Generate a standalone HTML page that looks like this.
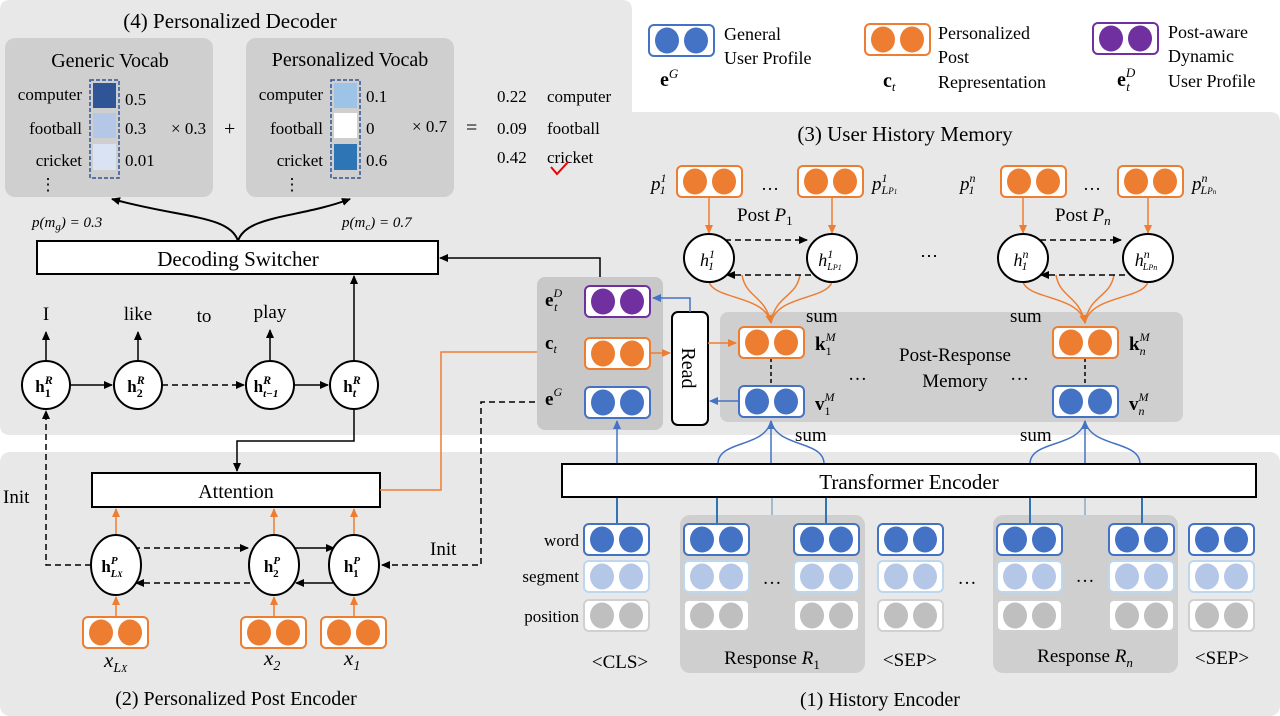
<!DOCTYPE html>
<html><head><meta charset="utf-8"><style>
html,body{margin:0;padding:0;background:#fff;}
svg{display:block;font-family:"Liberation Serif",serif;}
</style></head><body>
<svg width="1280" height="716" viewBox="0 0 1280 716" xmlns="http://www.w3.org/2000/svg">
<defs>
<marker id="ak" markerWidth="10" markerHeight="10" refX="8" refY="5" orient="auto" markerUnits="userSpaceOnUse"><path d="M0,1 L9,5 L0,9 z" fill="#000"/></marker>
<marker id="ao" markerWidth="10" markerHeight="10" refX="8" refY="5" orient="auto" markerUnits="userSpaceOnUse"><path d="M0,1 L9,5 L0,9 z" fill="#ed7d31"/></marker>
<marker id="ab" markerWidth="10" markerHeight="10" refX="8" refY="5" orient="auto" markerUnits="userSpaceOnUse"><path d="M0,1 L9,5 L0,9 z" fill="#4472c4"/></marker>
<g id="vo"><rect x="1" y="1" width="65" height="31" rx="5" fill="#fff" stroke="#ed7d31" stroke-width="2"/><ellipse cx="19" cy="16.5" rx="12" ry="13" fill="#ed7d31"/><ellipse cx="48" cy="16.5" rx="12" ry="13" fill="#ed7d31"/></g>
<g id="vb"><rect x="1" y="1" width="65" height="31" rx="5" fill="#fff" stroke="#4472c4" stroke-width="2"/><ellipse cx="19" cy="16.5" rx="12" ry="13" fill="#4472c4"/><ellipse cx="48" cy="16.5" rx="12" ry="13" fill="#4472c4"/></g>
<g id="vl"><rect x="1" y="1" width="65" height="31" rx="5" fill="#fff" stroke="#bdd7ee" stroke-width="2"/><ellipse cx="19" cy="16.5" rx="12" ry="13" fill="#b4c7e7"/><ellipse cx="48" cy="16.5" rx="12" ry="13" fill="#b4c7e7"/></g>
<g id="vg"><rect x="1" y="1" width="65" height="31" rx="5" fill="#fff" stroke="#d0d0d0" stroke-width="2"/><ellipse cx="19" cy="16.5" rx="12" ry="13" fill="#bfbfbf"/><ellipse cx="48" cy="16.5" rx="12" ry="13" fill="#bfbfbf"/></g>
<g id="vp"><rect x="1" y="1" width="65" height="31" rx="5" fill="#fff" stroke="#7030a0" stroke-width="2"/><ellipse cx="19" cy="16.5" rx="12" ry="13" fill="#7030a0"/><ellipse cx="48" cy="16.5" rx="12" ry="13" fill="#7030a0"/></g>
</defs>

<!-- panels -->
<path d="M10,0 H622 Q632,0 632,10 V112 H1270 Q1280,112 1280,122 V435 H10 Q0,435 0,425 V10 Q0,0 10,0 z" fill="#e8e8e8"/>
<rect x="0" y="452" width="1280" height="264" rx="10" fill="#e8e8e8"/>

<!-- (4) decoder -->
<text x="230" y="28" font-size="21" text-anchor="middle">(4) Personalized Decoder</text>
<rect x="5" y="38" width="208" height="159" rx="10" fill="#d0cfcf"/>
<rect x="246" y="38" width="208" height="159" rx="10" fill="#d0cfcf"/>
<text x="110" y="67" font-size="20" text-anchor="middle">Generic Vocab</text>
<text x="350" y="66" font-size="20" text-anchor="middle">Personalized Vocab</text>
<g font-size="17">
<text x="82" y="100" text-anchor="end">computer</text>
<text x="82" y="134" text-anchor="end">football</text>
<text x="82" y="166" text-anchor="end">cricket</text>
<text x="323" y="100" text-anchor="end">computer</text>
<text x="323" y="134" text-anchor="end">football</text>
<text x="323" y="166" text-anchor="end">cricket</text>
<text x="125" y="105">0.5</text><text x="125" y="134">0.3</text><text x="125" y="166">0.01</text>
<text x="366" y="102">0.1</text><text x="366" y="134">0</text><text x="366" y="166">0.6</text>
<text x="171" y="134">× 0.3</text><text x="224" y="135" font-size="20">+</text>
<text x="412" y="132">× 0.7</text><text x="466" y="134" font-size="20">=</text>
<text x="497" y="102">0.22</text><text x="547" y="102">computer</text>
<text x="497" y="134">0.09</text><text x="547" y="134">football</text>
<text x="497" y="163">0.42</text><text x="547" y="163">cricket</text>
<text x="48" y="190" text-anchor="middle">⋮</text><text x="292" y="190" text-anchor="middle">⋮</text>
</g>
<rect x="90" y="80" width="29" height="98" fill="none" stroke="#2f5597" stroke-width="1.5" stroke-dasharray="4,2"/>
<rect x="93" y="83" width="23" height="25" fill="#2f5597"/>
<rect x="93" y="113" width="23" height="25" fill="#b4c7e7"/>
<rect x="93" y="144" width="23" height="26" fill="#dae3f3"/>
<rect x="331" y="80" width="29" height="98" fill="none" stroke="#2f5597" stroke-width="1.5" stroke-dasharray="4,2"/>
<rect x="334" y="83" width="23" height="25" fill="#9dc3e6"/>
<rect x="334" y="113" width="23" height="25" fill="#fff"/>
<rect x="334" y="144" width="23" height="26" fill="#2e75b6"/>
<path d="M551,167 L557,174 L568,162" fill="none" stroke="#e00" stroke-width="2"/>
<path d="M238,241 C230,215 180,218 112,199" fill="none" stroke="#000" stroke-width="2" marker-end="url(#ak)"/>
<path d="M238,241 C246,215 300,218 350,199" fill="none" stroke="#000" stroke-width="2" marker-end="url(#ak)"/>
<text x="32" y="227" font-size="15" font-style="italic">p(m<tspan font-size="11" dy="3">g</tspan><tspan dy="-3">) = 0.3</tspan></text>
<text x="342" y="227" font-size="15" font-style="italic">p(m<tspan font-size="11" dy="3">c</tspan><tspan dy="-3">) = 0.7</tspan></text>
<rect x="37" y="241" width="401" height="33" fill="#fff" stroke="#000" stroke-width="2"/>
<text x="238" y="266" font-size="21" text-anchor="middle">Decoding Switcher</text>
<path d="M600,278 V258 H440" fill="none" stroke="#000" stroke-width="1.5" marker-end="url(#ak)"/>
<path d="M354,361 V276" fill="none" stroke="#000" stroke-width="1.5" marker-end="url(#ak)"/>

<!-- decoder RNN -->
<g font-size="19" text-anchor="middle">
<text x="46" y="320">I</text><text x="138" y="320">like</text><text x="204" y="322">to</text><text x="270" y="318">play</text>
</g>
<g stroke="#000" stroke-width="1.5" fill="none">
<path d="M46,360 V332" marker-end="url(#ak)"/><path d="M138,360 V332" marker-end="url(#ak)"/><path d="M270,360 V330" marker-end="url(#ak)"/>
<path d="M70,385 H112" marker-end="url(#ak)"/><path d="M162,385 H244" stroke-dasharray="6,4" marker-end="url(#ak)"/><path d="M294,385 H328" marker-end="url(#ak)"/>
</g>
<g fill="#fff" stroke="#000" stroke-width="2">
<circle cx="46" cy="385" r="24"/><circle cx="138" cy="385" r="24"/><circle cx="270" cy="385" r="24"/><circle cx="354" cy="385" r="24"/>
</g>
<g font-size="17" font-weight="bold" text-anchor="middle">
<text x="44" y="392">h<tspan font-size="12" dy="-8" font-style="italic">R</tspan><tspan font-size="12" dx="-8" dy="13">1</tspan></text>
<text x="136" y="392">h<tspan font-size="12" dy="-8" font-style="italic">R</tspan><tspan font-size="12" dx="-8" dy="13">2</tspan></text>
<text x="266" y="392">h<tspan font-size="12" dy="-8" font-style="italic">R</tspan><tspan font-size="11" dx="-8" dy="13" font-style="italic">t−1</tspan></text>
<text x="352" y="392">h<tspan font-size="12" dy="-8" font-style="italic">R</tspan><tspan font-size="12" dx="-8" dy="13" font-style="italic">t</tspan></text>
</g>

<!-- (2) encoder -->
<path d="M354,409 V441 H237 V471" fill="none" stroke="#000" stroke-width="1.5" marker-end="url(#ak)"/>
<rect x="92" y="473" width="288" height="34" fill="#fff" stroke="#000" stroke-width="2"/>
<text x="236" y="498" font-size="20" text-anchor="middle">Attention</text>
<path d="M380,490 H441 V352 H582" fill="none" stroke="#ed7d31" stroke-width="1.5" marker-end="url(#ao)"/>
<path d="M91,565 H46 V411" fill="none" stroke="#000" stroke-width="1.5" stroke-dasharray="6,4" marker-end="url(#ak)"/>
<text x="3" y="503" font-size="19">Init</text>
<path d="M585,402 H481 V565 H382" fill="none" stroke="#000" stroke-width="1.5" stroke-dasharray="6,4" marker-end="url(#ak)"/>
<text x="430" y="555" font-size="19">Init</text>
<g stroke="#000" stroke-width="1.5" fill="none">
<path d="M134,548 H248" stroke-dasharray="6,4" marker-end="url(#ak)"/>
<path d="M250,583 H136" stroke-dasharray="6,4" marker-end="url(#ak)"/>
<path d="M293,548 H334" marker-end="url(#ak)"/>
<path d="M333,583 H296" marker-end="url(#ak)"/>
</g>
<g stroke="#ed7d31" stroke-width="1.5" fill="none">
<path d="M116,616 V597" marker-end="url(#ao)"/><path d="M274,616 V597" marker-end="url(#ao)"/><path d="M354,616 V597" marker-end="url(#ao)"/>
<path d="M116,535 V509" marker-end="url(#ao)"/><path d="M274,535 V509" marker-end="url(#ao)"/><path d="M354,535 V509" marker-end="url(#ao)"/>
</g>
<g fill="#fff" stroke="#000" stroke-width="2">
<ellipse cx="116" cy="565" rx="25" ry="30"/><ellipse cx="274" cy="565" rx="25" ry="30"/><ellipse cx="354" cy="565" rx="25" ry="30"/>
</g>
<g font-size="17" font-weight="bold" text-anchor="middle">
<text x="112" y="572">h<tspan font-size="11" dy="-8" font-style="italic">P</tspan><tspan font-size="11" dx="-7" dy="13" font-style="italic">L<tspan font-size="8">X</tspan></tspan></text>
<text x="272" y="572">h<tspan font-size="11" dy="-8" font-style="italic">P</tspan><tspan font-size="11" dx="-7" dy="13">2</tspan></text>
<text x="352" y="572">h<tspan font-size="11" dy="-8" font-style="italic">P</tspan><tspan font-size="11" dx="-7" dy="13">1</tspan></text>
</g>
<use href="#vo" x="82" y="616"/><use href="#vo" x="240" y="616"/><use href="#vo" x="320" y="616"/>
<g font-size="21" font-style="italic">
<text x="104" y="667">x<tspan font-size="14" dy="5">L<tspan font-size="10">X</tspan></tspan></text>
<text x="264" y="665">x<tspan font-size="14" dy="5">2</tspan></text>
<text x="344" y="665">x<tspan font-size="14" dy="5">1</tspan></text>
</g>
<text x="236" y="705" font-size="20" text-anchor="middle">(2) Personalized Post Encoder</text>

<!-- legend -->
<use href="#vb" x="648" y="24"/><use href="#vo" x="864" y="23"/><use href="#vp" x="1092" y="22"/>
<g font-size="18">
<text x="724" y="40">General</text><text x="724" y="64">User Profile</text>
<text x="938" y="39">Personalized</text><text x="938" y="63">Post</text><text x="938" y="88">Representation</text>
<text x="1168" y="38">Post-aware</text><text x="1168" y="62">Dynamic</text><text x="1168" y="87">User Profile</text>
</g>
<g font-size="20" font-weight="bold">
<text x="660" y="86">e<tspan font-size="13" dy="-8" font-style="italic" font-weight="normal">G</tspan></text>
<text x="883" y="87">c<tspan font-size="13" dy="4" font-style="italic" font-weight="normal">t</tspan></text>
<text x="1117" y="86">e<tspan font-size="13" dy="-9" font-style="italic" font-weight="normal">D</tspan><tspan font-size="13" dx="-9" dy="14" font-style="italic" font-weight="normal">t</tspan></text>
</g>

<!-- (3) memory -->
<text x="905" y="141" font-size="21" text-anchor="middle">(3) User History Memory</text>
<rect x="720" y="312" width="463" height="110" rx="8" fill="#d0cfcf"/>
<rect x="537" y="277" width="126" height="153" rx="8" fill="#c8c8c8"/>
<use href="#vo" x="676" y="165"/><use href="#vo" x="797" y="165"/><use href="#vo" x="1000" y="165"/><use href="#vo" x="1117" y="165"/>
<g font-size="19" font-style="italic">
<text x="651" y="190">p<tspan font-size="12" dy="-8">1</tspan><tspan font-size="12" dx="-6" dy="12">1</tspan></text>
<text x="872" y="190">p<tspan font-size="12" dy="-8">1</tspan><tspan font-size="12" dx="-6" dy="12">L<tspan font-size="9">P<tspan font-size="7">1</tspan></tspan></tspan></text>
<text x="960" y="190">p<tspan font-size="12" dy="-8">n</tspan><tspan font-size="12" dx="-7" dy="12">1</tspan></text>
<text x="1192" y="190">p<tspan font-size="12" dy="-8">n</tspan><tspan font-size="12" dx="-7" dy="12">L<tspan font-size="9">P<tspan font-size="7">n</tspan></tspan></tspan></text>
</g>
<g font-size="18"><text x="761" y="190">…</text><text x="1083" y="190">…</text><text x="920" y="262">⋯</text></g>
<text x="737" y="221" font-size="19">Post <tspan font-style="italic">P</tspan><tspan font-size="13" dy="4">1</tspan></text>
<text x="1055" y="221" font-size="19">Post <tspan font-style="italic">P</tspan><tspan font-size="13" dy="4" font-style="italic">n</tspan></text>
<g stroke="#ed7d31" stroke-width="1.5" fill="none">
<path d="M709,198 V233" marker-end="url(#ao)"/><path d="M832,198 V233" marker-end="url(#ao)"/>
<path d="M1023,198 V233" marker-end="url(#ao)"/><path d="M1148,198 V233" marker-end="url(#ao)"/>
<path d="M709,282 C715,300 765,295 771,323" marker-end="url(#ao)"/>
<path d="M742,275 C746,298 765,295 771,323"/>
<path d="M800,275 C796,298 775,295 771,323"/>
<path d="M832,282 C826,300 777,295 771,323"/>
<path d="M1023,282 C1029,300 1079,295 1085,323" marker-end="url(#ao)"/>
<path d="M1056,275 C1060,298 1079,295 1085,323"/>
<path d="M1114,275 C1110,298 1089,295 1085,323"/>
<path d="M1148,282 C1142,300 1091,295 1085,323"/>
</g>
<g stroke="#000" stroke-width="1.5" fill="none" stroke-dasharray="6,4">
<path d="M725,240 H807" marker-end="url(#ak)"/><path d="M811,275 H727" marker-end="url(#ak)"/>
<path d="M1040,240 H1121" marker-end="url(#ak)"/><path d="M1125,275 H1041" marker-end="url(#ak)"/>
<path d="M771,358 V385" stroke-dasharray="4,3"/><path d="M1085,358 V385" stroke-dasharray="4,3"/>
</g>
<g fill="#fff" stroke="#000" stroke-width="2">
<ellipse cx="709" cy="258" rx="25" ry="24"/><ellipse cx="832" cy="258" rx="25" ry="24"/>
<ellipse cx="1023" cy="258" rx="25" ry="24"/><ellipse cx="1148" cy="258" rx="25" ry="24"/>
</g>
<g font-size="18" font-style="italic" text-anchor="middle">
<text x="707" y="266">h<tspan font-size="12" dy="-8">1</tspan><tspan font-size="12" dx="-6" dy="12">1</tspan></text>
<text x="830" y="266">h<tspan font-size="12" dy="-8">1</tspan><tspan font-size="10" dx="-6" dy="12">L<tspan font-size="8">P1</tspan></tspan></text>
<text x="1021" y="266">h<tspan font-size="12" dy="-8">n</tspan><tspan font-size="12" dx="-7" dy="12">1</tspan></text>
<text x="1146" y="266">h<tspan font-size="12" dy="-8">n</tspan><tspan font-size="10" dx="-7" dy="12">L<tspan font-size="8">Pn</tspan></tspan></text>
</g>
<g font-size="19"><text x="806" y="322">sum</text><text x="1010" y="322">sum</text><text x="795" y="441">sum</text><text x="1020" y="441">sum</text></g>
<use href="#vo" x="738" y="326"/><use href="#vb" x="738" y="385"/><use href="#vo" x="1052" y="326"/><use href="#vb" x="1052" y="385"/>
<g font-size="19" font-weight="bold">
<text x="815" y="350">k<tspan font-size="12" dy="-9" font-style="italic" font-weight="normal">M</tspan><tspan font-size="12" dx="-10" dy="14" font-weight="normal">1</tspan></text>
<text x="815" y="410">v<tspan font-size="12" dy="-9" font-style="italic" font-weight="normal">M</tspan><tspan font-size="12" dx="-10" dy="14" font-weight="normal">1</tspan></text>
<text x="1129" y="350">k<tspan font-size="12" dy="-9" font-style="italic" font-weight="normal">M</tspan><tspan font-size="12" dx="-10" dy="14" font-style="italic" font-weight="normal">n</tspan></text>
<text x="1129" y="410">v<tspan font-size="12" dy="-9" font-style="italic" font-weight="normal">M</tspan><tspan font-size="12" dx="-10" dy="14" font-style="italic" font-weight="normal">n</tspan></text>
</g>
<text x="955" y="361" font-size="19" text-anchor="middle">Post-Response</text>
<text x="955" y="387" font-size="19" text-anchor="middle">Memory</text>
<text x="848" y="380" font-size="19">…</text><text x="1010" y="380" font-size="19">…</text>
<use href="#vp" x="584" y="285"/><use href="#vo" x="584" y="337"/><use href="#vb" x="584" y="386"/>
<g font-size="19" font-weight="bold">
<text x="545" y="306">e<tspan font-size="12" dy="-9" font-style="italic" font-weight="normal">D</tspan><tspan font-size="12" dx="-8" dy="14" font-style="italic" font-weight="normal">t</tspan></text>
<text x="545" y="349">c<tspan font-size="12" dy="4" font-style="italic" font-weight="normal">t</tspan></text>
<text x="545" y="405">e<tspan font-size="12" dy="-9" font-style="italic" font-weight="normal">G</tspan></text>
</g>
<rect x="672" y="312" width="36" height="113" rx="6" fill="#fff" stroke="#000" stroke-width="2"/>
<text transform="translate(682,368) rotate(90)" font-size="20" text-anchor="middle">Read</text>
<path d="M690,312 V298 H653" fill="none" stroke="#4472c4" stroke-width="1.5" marker-end="url(#ab)"/>
<path d="M651,353 H670" fill="none" stroke="#ed7d31" stroke-width="1.5" marker-end="url(#ao)"/>
<path d="M708,343 H736" fill="none" stroke="#ed7d31" stroke-width="1.5" marker-end="url(#ao)"/>
<path d="M738,401 H710" fill="none" stroke="#4472c4" stroke-width="1.5" marker-end="url(#ab)"/>

<!-- (1) history encoder -->
<g stroke="#4472c4" stroke-width="1.5" fill="none">
<path d="M617,464 V421" marker-end="url(#ab)"/>
<path d="M771,464 V421" marker-end="url(#ab)"/>
<path d="M718,464 C718,440 765,448 771,421"/><path d="M824,464 C824,440 777,448 771,421"/>
<path d="M1085,464 V421" marker-end="url(#ab)"/>
<path d="M1030,464 C1030,440 1079,448 1085,421"/><path d="M1140,464 C1140,440 1091,448 1085,421"/>
</g>
<rect x="680" y="515" width="185" height="158" rx="10" fill="#d0cfcf"/>
<rect x="993" y="515" width="185" height="158" rx="10" fill="#d0cfcf"/>
<g stroke="#2e75b6" stroke-width="2" fill="none">
<path d="M617,497 V523"/><path d="M717,497 V523"/><path d="M826,497 V523"/><path d="M1030,497 V523"/><path d="M1142,497 V523"/>
</g>
<g stroke="#8ea9c8" stroke-width="1.5"><path d="M772,497 V515"/><path d="M1085,497 V515"/></g>
<rect x="562" y="464" width="694" height="33" fill="#fff" stroke="#000" stroke-width="2"/>
<text x="909" y="489" font-size="21" text-anchor="middle">Transformer Encoder</text>
<g>
<use href="#vb" x="583" y="523"/><use href="#vl" x="583" y="560"/><use href="#vg" x="583" y="599"/>
<use href="#vb" x="683" y="523"/><use href="#vl" x="683" y="560"/><use href="#vg" x="683" y="599"/>
<use href="#vb" x="793" y="523"/><use href="#vl" x="793" y="560"/><use href="#vg" x="793" y="599"/>
<use href="#vb" x="877" y="523"/><use href="#vl" x="877" y="560"/><use href="#vg" x="877" y="599"/>
<use href="#vb" x="996" y="523"/><use href="#vl" x="996" y="560"/><use href="#vg" x="996" y="599"/>
<use href="#vb" x="1108" y="523"/><use href="#vl" x="1108" y="560"/><use href="#vg" x="1108" y="599"/>
<use href="#vb" x="1188" y="523"/><use href="#vl" x="1188" y="560"/><use href="#vg" x="1188" y="599"/>
</g>
<g font-size="17" text-anchor="end">
<text x="579" y="546">word</text><text x="579" y="582">segment</text><text x="579" y="622">position</text>
</g>
<g font-size="19" text-anchor="middle">
<text x="772" y="584">…</text><text x="967" y="584">…</text><text x="1085" y="582">…</text>
<text x="620" y="668">&lt;CLS&gt;</text><text x="910" y="666">&lt;SEP&gt;</text><text x="1222" y="664">&lt;SEP&gt;</text>
<text x="772" y="664">Response <tspan font-style="italic">R</tspan><tspan font-size="13" dy="5">1</tspan></text>
<text x="1085" y="662">Response <tspan font-style="italic">R</tspan><tspan font-size="13" dy="5" font-style="italic">n</tspan></text>
<text x="880" y="706" font-size="20">(1) History Encoder</text>
</g>
</svg>
</body></html>
